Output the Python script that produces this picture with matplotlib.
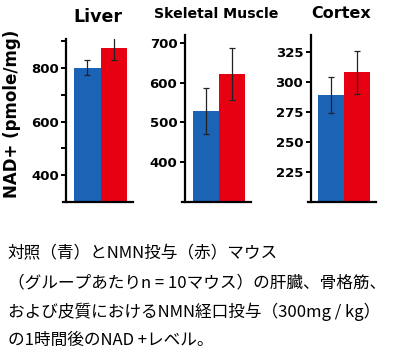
import matplotlib.pyplot as plt
import numpy as np

plt.rcParams['font.family'] = ['DejaVu Sans']
plt.rcParams['font.weight'] = 'bold'

# データ
panels = ['Liver', 'Skeletal Muscle', 'Cortex']
control_mean = [800, 528, 289]
control_err = [28, 58, 15]
nmn_mean = [874, 623, 308]
nmn_err = [44, 66, 18]

ylims = [(300, 908), (300, 721), (200, 339)]
major_ticks = [[400, 500, 600, 700, 800, 900], [400, 500, 600, 700], [225, 250, 275, 300, 325]]
tick_labels = [['400', '', '600', '', '800', ''], ['400', '500', '600', '700'], ['225', '250', '275', '300', '325']]
title_sizes = [12.5, 10.2, 11.5]

caption = ['対照（青）とNMN投与（赤）マウス',
           '（グループあたりn = 10マウス）の肝臓、骨格筋、',
           'および皮質におけるNMN経口投与（300mg / kg）',
           'の1時間後のNAD +レベル。']

blue = '#1a63b5'
red = '#e60012'

fig = plt.figure(figsize=(4, 3.63), dpi=100)

# 各パネルの位置 [left, bottom, width, height]
positions = [[0.1575, 0.4435, 0.175, 0.449],
             [0.454, 0.4444, 0.1725, 0.4592],
             [0.769, 0.4444, 0.17, 0.4592]]

for i in range(3):
    ax = fig.add_axes(positions[i])
    ax.bar([0], [control_mean[i]], width=1, color=blue, yerr=[control_err[i]],
           error_kw=dict(elinewidth=0.9, capsize=2, capthick=0.9, ecolor='#222222'))
    ax.bar([1], [nmn_mean[i]], width=1, color=red, yerr=[nmn_err[i]],
           error_kw=dict(elinewidth=0.9, capsize=2, capthick=0.9, ecolor='#222222'))
    ax.set_xlim(-0.92, 1.72)
    ax.set_ylim(*ylims[i])
    ax.spines['top'].set_visible(False)
    ax.spines['right'].set_visible(False)
    ax.spines['left'].set_position(('data', -0.79))
    ax.spines['left'].set_linewidth(1.6)
    ax.spines['bottom'].set_linewidth(1.6)
    ax.set_xticks([])
    ax.set_yticks(major_ticks[i])
    ax.set_yticklabels(tick_labels[i], fontsize=9.5, fontweight='bold')
    ax.tick_params(axis='y', length=3.5, width=1.4, pad=2)
    ax.set_title(panels[i], fontsize=title_sizes[i], fontweight='bold', pad=12)

fig.text(0.03, 0.686, 'NAD+ (pmole/mg)', rotation=90, ha='center', va='center',
         fontsize=12, fontweight='bold')

for j, line in enumerate(caption):
    fig.text(0.02, 1 - (254 + j * 28.7) / 363, line, ha='left', va='center',
             fontsize=12, fontweight='normal', family=['Noto Sans CJK JP', 'DejaVu Sans'])

plt.savefig('out.png', dpi=100)
